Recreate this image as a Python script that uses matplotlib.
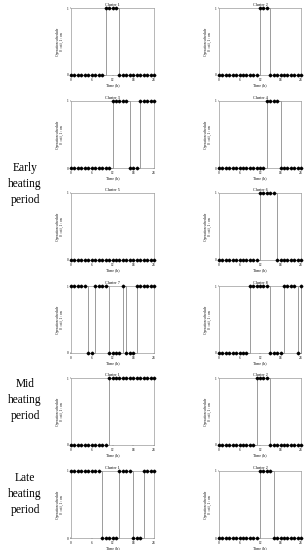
import matplotlib
matplotlib.use("Agg")
import matplotlib.pyplot as plt
import numpy as np

hours = list(range(25))

def sched(on_ranges):
    v = [0] * 25
    for a, b in on_ranges:
        for h in range(a, b + 1):
            v[h] = 1
    return v

# operation schedules (1 = on, 0 = off), hourly 0..24
early_c1 = sched([(10, 13)])
early_c2 = sched([(12, 14)])
early_c3 = sched([(12, 16), (20, 24)])
early_c4 = sched([(14, 17)])
early_c5 = sched([])
early_c6 = sched([(12, 16)])
early_c7 = sched([(0, 4), (7, 10), (15, 15), (19, 24)])
early_c8 = sched([(9, 14), (19, 22), (24, 24)])
mid_c1 = sched([(11, 24)])
mid_c2 = sched([(11, 14)])
late_c1 = sched([(0, 8), (14, 17), (21, 24)])
late_c2 = sched([(12, 15)])

panels = [
    ("Cluster 1", early_c1), ("Cluster 2", early_c2),
    ("Cluster 3", early_c3), ("Cluster 4", early_c4),
    ("Cluster 5", early_c5), ("Cluster 6", early_c6),
    ("Cluster 7", early_c7), ("Cluster 8", early_c8),
    ("Cluster 1", mid_c1), ("Cluster 2", mid_c2),
    ("Cluster 1", late_c1), ("Cluster 2", late_c2),
]
period_labels = ["Early\nheating\nperiod", "Mid\nheating\nperiod", "Late\nheating\nperiod"]
xticks = [0, 6, 12, 18, 24]

plt.rcParams['font.family'] = ['Liberation Serif', 'DejaVu Serif']

W, H = 308, 550
fig = plt.figure(figsize=(W / 100, H / 100), dpi=100)

row_tops = [8, 101, 193, 286, 378, 471]
row_h = 67
col_x = [(71, 154), (219, 301)]

for i, (title, vals) in enumerate(panels):
    r, c = divmod(i, 2)
    x0, x1 = col_x[c]
    top = row_tops[r]
    ax = fig.add_axes([x0 / W, 1 - (top + row_h) / H, (x1 - x0) / W, row_h / H])
    ax.plot(hours, vals, drawstyle='steps-post', color='#8c8c8c', lw=0.6,
            clip_on=False, zorder=2)
    ax.plot(hours, vals, ls='none', marker='D', ms=1.4, color='black',
            clip_on=False, zorder=3)
    ax.set_xlim(0, 24)
    ax.set_ylim(0, 1)
    ax.set_xticks(xticks)
    ax.set_yticks([0, 1])
    ax.tick_params(labelsize=2.5, length=1, width=0.3, pad=1)
    for s in ax.spines.values():
        s.set_color('#9a9a9a')
        s.set_linewidth(0.5)
    ax.set_title(title, fontsize=3, pad=1.6)
    ax.set_xlabel("Time (h)", fontsize=2.8, labelpad=1)
    ax.set_ylabel("Operation schedule\n0 : off, 1 : on", fontsize=2.6, labelpad=1.5)

label_y = [184, 400, 494]
for lab, y in zip(period_labels, label_y):
    fig.text(25 / W, 1 - y / H, lab, ha='center', va='center', fontsize=8.3,
             linespacing=1.45)

fig.savefig("out.png", dpi=100)
